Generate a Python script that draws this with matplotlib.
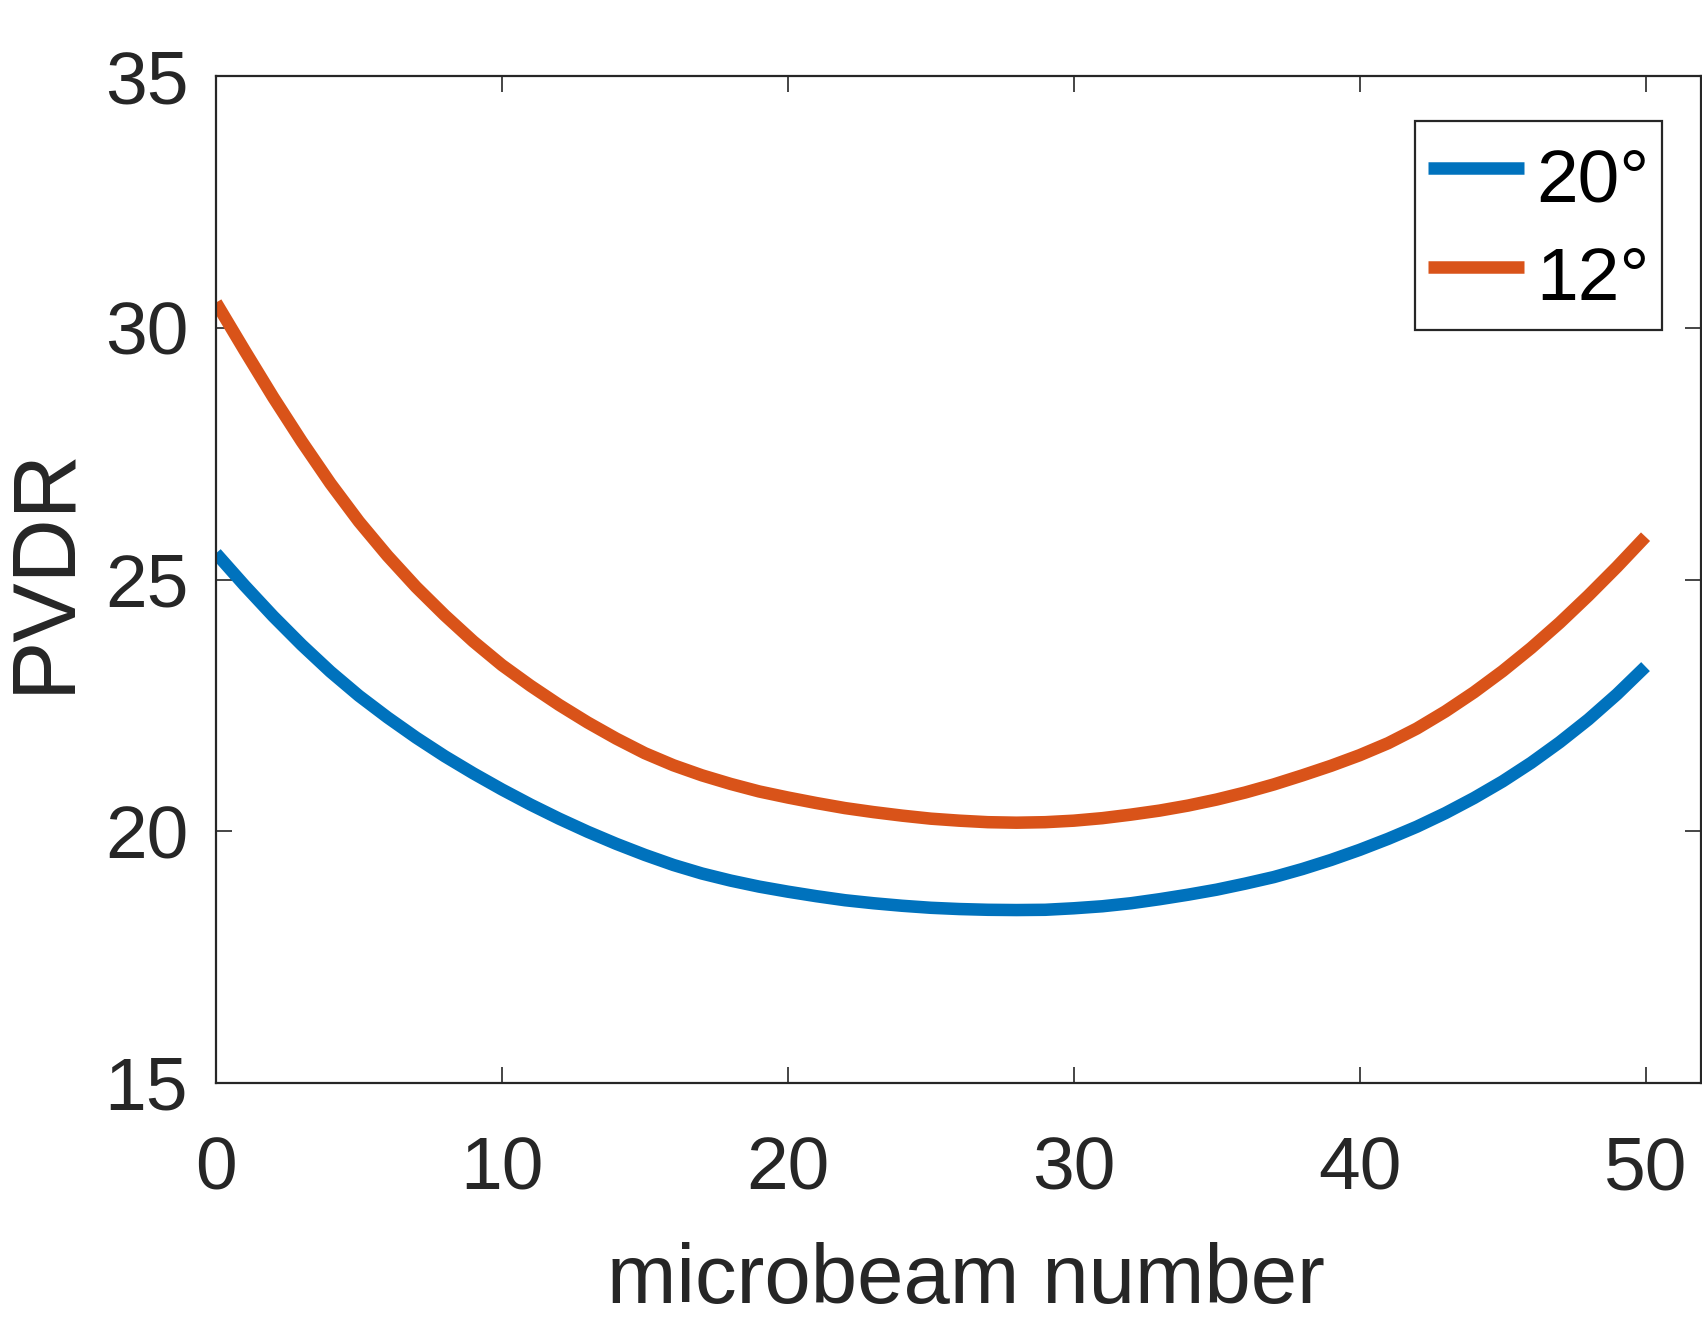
import matplotlib
matplotlib.use("Agg")
import matplotlib.pyplot as plt

# ---- data ----
microbeam = list(range(0, 51))

pvdr_20 = [25.52, 24.88, 24.27, 23.70, 23.17, 22.69, 22.26, 21.86, 21.49, 21.15,
           20.83, 20.53, 20.25, 19.99, 19.75, 19.53, 19.33, 19.16, 19.02, 18.90,
           18.80, 18.71, 18.63, 18.57, 18.52, 18.48, 18.455, 18.44, 18.435, 18.44,
           18.47, 18.51, 18.57, 18.65, 18.74, 18.84, 18.96, 19.09, 19.25, 19.43,
           19.63, 19.85, 20.09, 20.36, 20.66, 20.99, 21.36, 21.77, 22.22, 22.72,
           23.27]

pvdr_12 = [30.50, 29.55, 28.62, 27.74, 26.91, 26.15, 25.47, 24.85, 24.29, 23.77,
           23.30, 22.89, 22.51, 22.16, 21.84, 21.55, 21.31, 21.11, 20.94, 20.79,
           20.67, 20.56, 20.46, 20.38, 20.31, 20.25, 20.21, 20.18, 20.17, 20.18,
           20.21, 20.26, 20.33, 20.41, 20.51, 20.63, 20.77, 20.93, 21.11, 21.30,
           21.51, 21.75, 22.04, 22.38, 22.76, 23.18, 23.64, 24.14, 24.68, 25.25,
           25.85]

labels = ["20°", "12°"]
x_ticks = [0, 10, 20, 30, 40, 50]
y_ticks = [15, 20, 25, 30, 35]
x_label = "microbeam number"
y_label = "PVDR"

# ---- style ----
plt.rcParams['font.family'] = ['Liberation Sans', 'DejaVu Sans']
AX_COLOR = '#262626'
C_BLUE = '#0072BD'
C_ORANGE = '#D95319'

W, H = 1702, 1317
fig = plt.figure(figsize=(W / 100, H / 100), dpi=100)
left, right, top, bottom = 216, 1701, 76, 1083
ax = fig.add_axes([left / W, 1 - bottom / H, (right - left) / W, (bottom - top) / H])

ax.plot(microbeam, pvdr_20, color=C_BLUE, lw=9, solid_capstyle='butt',
        solid_joinstyle='round', label=labels[0])
ax.plot(microbeam, pvdr_12, color=C_ORANGE, lw=9, solid_capstyle='butt',
        solid_joinstyle='round', label=labels[1])

ax.set_xlim(0, 51.94)
ax.set_ylim(15, 35)
ax.set_xticks(x_ticks)
ax.set_yticks(y_ticks)

for s in ax.spines.values():
    s.set_color(AX_COLOR)
    s.set_linewidth(1.6)

ax.tick_params(axis='both', which='major', direction='in', length=11.5, width=1.2,
               color=AX_COLOR, labelcolor=AX_COLOR, labelsize=54,
               top=True, right=True)
ax.tick_params(axis='x', pad=38)
ax.tick_params(axis='y', pad=20)

ax.set_xlabel(x_label, fontsize=60, color=AX_COLOR)
ax.set_ylabel(y_label, fontsize=64, color=AX_COLOR)
ax.xaxis.set_label_coords(0.505, -0.158)
ax.yaxis.set_label_coords(-0.087, 0.51)

leg = ax.legend(loc='upper right', bbox_to_anchor=(0.9737, 0.9549), borderaxespad=0,
                fontsize=54, handlelength=1.28, handleheight=1.35, handletextpad=0.16,
                borderpad=0.17, labelspacing=0.2, fancybox=False, framealpha=1,
                edgecolor=AX_COLOR)
leg.get_frame().set_linewidth(1.6)
for line in leg.get_lines():
    line.set_linewidth(9)

fig.savefig("out.png", dpi=100)
